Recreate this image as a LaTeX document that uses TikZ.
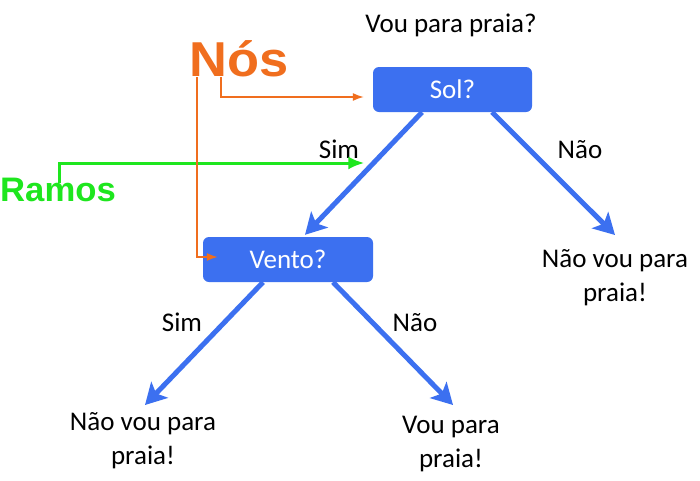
\documentclass[tikz,border=0pt]{standalone}
\usepackage{fontspec}
\setmainfont{Carlito}
\newfontfamily\arialfont{Liberation Sans}
\usetikzlibrary{arrows.meta}
\definecolor{treeblue}{RGB}{60,112,240}
\definecolor{nosorange}{RGB}{240,110,30}
\definecolor{ramosgreen}{RGB}{30,230,30}
\begin{document}
\begin{tikzpicture}[x=1pt,y=-1pt,
  txt/.style={font=\fontsize{27}{34}\selectfont, inner sep=0pt, align=center},
  question/.style={fill=treeblue, rounded corners=6pt, minimum height=45pt, text=white, font=\fontsize{27}{32}\selectfont, inner sep=0pt},
  branch/.style={treeblue, line width=5pt, -{Stealth[length=21pt,width=23pt,inset=5pt]}},
  bigorange/.style={font=\arialfont\bfseries\fontsize{49}{49}\selectfont, text=nosorange, inner sep=0pt, anchor=south west},
  biggreen/.style={font=\arialfont\bfseries\fontsize{34}{34}\selectfont, text=ramosgreen, inner sep=0pt, anchor=south west},
  orangearrow/.style={nosorange, line width=1.5pt, -{Latex[length=11pt,width=8pt]}},
  greenarrow/.style={ramosgreen, line width=3pt, -{Latex[length=16pt,width=13pt]}}]
\useasboundingbox (0,0) rectangle (700,480);
\fill[white] (0,0) rectangle (700,480);

\node[txt, anchor=base] (title) at (451,32) {Vou para praia?};
\node[question, minimum width=159pt] (sol) at (452.5,89.5) {Sol?};
\node[question, minimum width=170pt] (vento) at (288,259.5) {Vento?};
\node[txt, anchor=base] (leafA) at (615,301) {Não vou para\\praia!};
\node[txt, anchor=base] (leafB) at (143,464) {Não vou para\\praia!};
\node[txt, anchor=base] (leafC) at (451,467) {Vou para\\praia!};
\node[txt, anchor=base] (simA) at (339,158) {Sim};
\node[txt, anchor=base] (naoA) at (580,158) {Não};
\node[txt, anchor=base] (simB) at (182,331) {Sim};
\node[txt, anchor=base] (naoB) at (415,331) {Não};

\draw[branch] ([xshift=-30.5pt]sol.south) -- ([xshift=17pt,yshift=2pt]vento.north);
\draw[branch] ([xshift=39.5pt]sol.south) -- ([yshift=66pt]leafA.base);
\draw[branch] ([xshift=-25pt]vento.south) -- ([xshift=2pt,yshift=59pt]leafB.base);
\draw[branch] ([xshift=45pt]vento.south) -- ([xshift=2pt,yshift=62pt]leafC.base);

\node[bigorange] (nos) at (189,77) {\scalebox{1.07}[1]{Nós}};
\node[biggreen] (ramos) at (0,202) {\scalebox{1.02}[1]{Ramos}};

\draw[greenarrow] ([xshift=59pt,yshift=19pt]ramos.south west) |- ([xshift=5pt,yshift=-5pt]simA.base east);
\draw[orangearrow] ([xshift=32pt]nos.south west) |- ([xshift=-9pt,yshift=-7.5pt]sol.west);
\draw[orangearrow] ([xshift=8pt]nos.south west) |- ([xshift=15pt,yshift=2.5pt]vento.west);
\end{tikzpicture}
\end{document}
